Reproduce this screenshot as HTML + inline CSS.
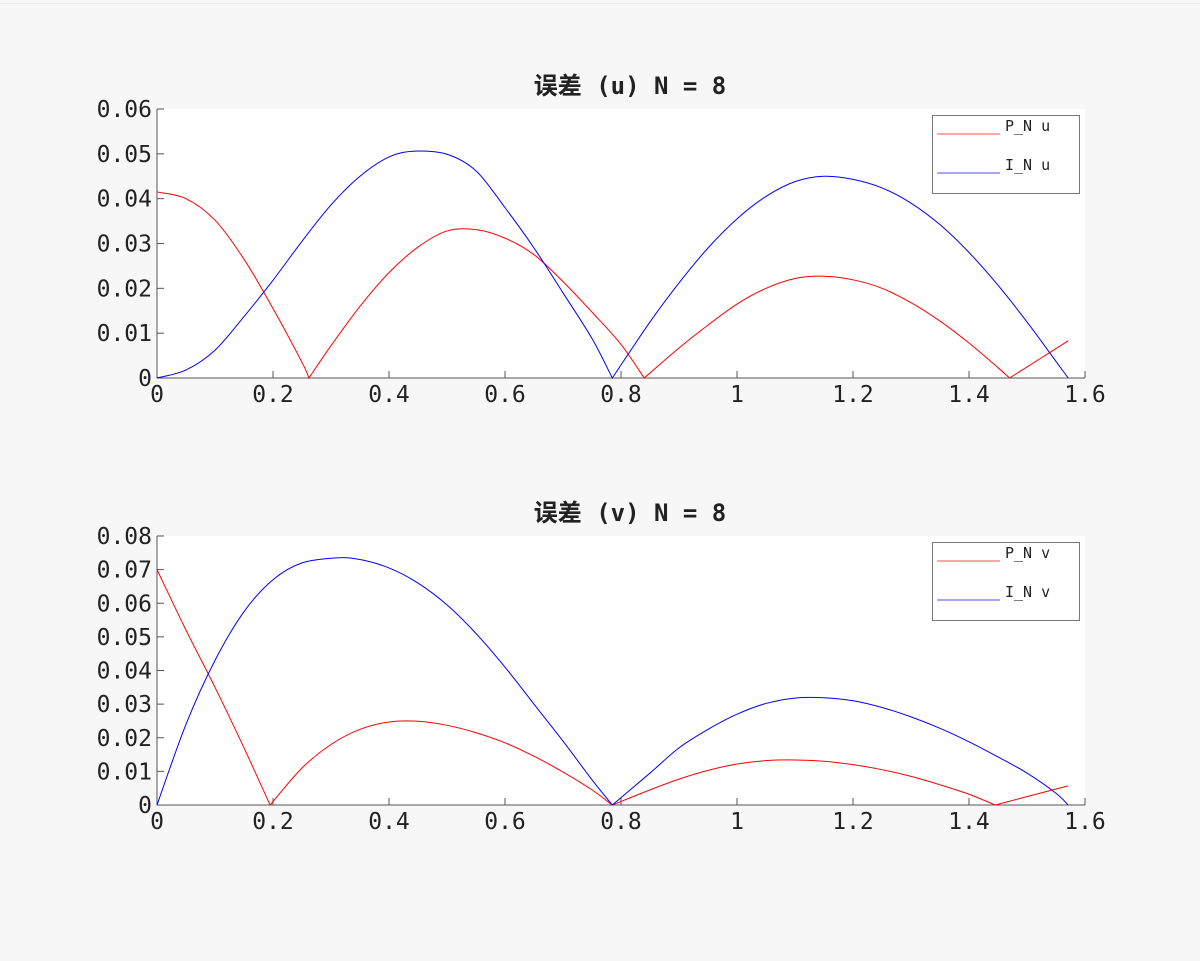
<!DOCTYPE html>
<html><head><meta charset="utf-8">
<style>
html,body{margin:0;padding:0;background:#f7f7f7;}
svg{display:block;}
text{font-family:"DejaVu Sans Mono","Liberation Mono","Noto Sans CJK SC",monospace;fill:#222;}
</style></head>
<body>
<svg id="chart" width="1200" height="961" viewBox="0 0 1200 961">
<rect x="0" y="0" width="1200" height="961" fill="#f7f7f7"/>
<line x1="0" y1="3.5" x2="1200" y2="3.5" stroke="#ececec" stroke-width="1"/>
</svg>
<script>
// ---- data (top: u) ----
const uRedX = [0,0.05,0.1,0.15,0.2,0.25,0.262,0.3,0.35,0.4,0.45,0.5,0.55,0.6,0.65,0.7,0.75,0.8,0.84,0.9,0.95,1.0,1.05,1.1,1.15,1.2,1.25,1.3,1.35,1.4,1.45,1.47,1.52,1.571];
const uRedY = [0.0415,0.0400,0.0352,0.0265,0.0155,0.0035,0,0.0072,0.0160,0.0235,0.0292,0.0328,0.0331,0.0312,0.0275,0.0215,0.0147,0.0075,0,0.0067,0.0118,0.0165,0.0200,0.0222,0.0227,0.0219,0.0200,0.0168,0.0127,0.0078,0.0023,0,0.0041,0.0083];
const uBlueX = [0,0.05,0.1,0.15,0.2,0.25,0.3,0.35,0.4,0.445,0.5,0.55,0.6,0.65,0.7,0.75,0.785,0.85,0.9,0.95,1.0,1.05,1.1,1.15,1.2,1.25,1.3,1.35,1.4,1.45,1.5,1.55,1.571];
const uBlueY = [0,0.0018,0.0062,0.0137,0.0218,0.0305,0.0386,0.0450,0.0493,0.0506,0.0499,0.0462,0.0380,0.0290,0.0190,0.0088,0,0.0125,0.0212,0.0290,0.0355,0.0405,0.0438,0.0450,0.0443,0.0424,0.0390,0.0342,0.0280,0.0207,0.0125,0.0037,0];
// ---- data (bottom: v) ----
const vRedX = [0,0.05,0.1,0.15,0.195,0.25,0.3,0.35,0.4,0.45,0.5,0.55,0.6,0.65,0.7,0.75,0.785,0.85,0.9,0.95,1.0,1.05,1.1,1.15,1.2,1.25,1.3,1.35,1.4,1.445,1.5,1.571];
const vRedY = [0.070,0.052,0.035,0.017,0,0.011,0.018,0.0225,0.0247,0.0249,0.0237,0.0215,0.0185,0.0145,0.0098,0.0045,0,0.0045,0.0077,0.0103,0.0122,0.0132,0.0134,0.0130,0.0120,0.0105,0.0085,0.0060,0.0032,0,0.0025,0.0057];
const vBlueX = [0,0.05,0.1,0.15,0.2,0.25,0.31,0.35,0.4,0.45,0.5,0.55,0.6,0.65,0.7,0.75,0.785,0.85,0.9,0.95,1.0,1.05,1.1,1.15,1.2,1.25,1.3,1.35,1.4,1.45,1.5,1.55,1.571];
const vBlueY = [0,0.024,0.043,0.0575,0.067,0.072,0.0735,0.073,0.0705,0.066,0.0595,0.051,0.041,0.030,0.019,0.0075,0,0.0095,0.017,0.0225,0.027,0.0302,0.0318,0.0319,0.031,0.029,0.0262,0.0228,0.0188,0.0143,0.0095,0.0035,0];
const xTicks = [0,0.2,0.4,0.6,0.8,1,1.2,1.4,1.6];
const xTickLabels = ["0","0.2","0.4","0.6","0.8","1","1.2","1.4","1.6"];
const uYTicks = [0,0.01,0.02,0.03,0.04,0.05,0.06];
const uYTickLabels = ["0","0.01","0.02","0.03","0.04","0.05","0.06"];
const vYTicks = [0,0.01,0.02,0.03,0.04,0.05,0.06,0.07,0.08];
const vYTickLabels = ["0","0.01","0.02","0.03","0.04","0.05","0.06","0.07","0.08"];

const NS = "http://www.w3.org/2000/svg";
const svg = document.getElementById('chart');
function mk(tag, attrs, parent){
  const e = document.createElementNS(NS, tag);
  for (const k in attrs) e.setAttribute(k, attrs[k]);
  (parent||svg).appendChild(e);
  return e;
}
// smooth path: split at zero-value cusps, Catmull-Rom within each segment
function smoothPath(pts, zeroIdx){
  let d = 'M'+pts[0][0].toFixed(2)+','+pts[0][1].toFixed(2);
  let segs = [], cur=[0];
  for (let i=1;i<pts.length;i++){ cur.push(i); if (zeroIdx.includes(i) && i<pts.length-1){ segs.push(cur); cur=[i]; } }
  segs.push(cur);
  segs.forEach(seg=>{
    for (let k=0;k<seg.length-1;k++){
      const p1=pts[seg[k]], p2=pts[seg[k+1]];
      const p0=pts[seg[Math.max(k-1,0)]], p3=pts[seg[Math.min(k+2,seg.length-1)]];
      const c1=[p1[0]+(p2[0]-p0[0])/6, p1[1]+(p2[1]-p0[1])/6];
      const c2=[p2[0]-(p3[0]-p1[0])/6, p2[1]-(p3[1]-p1[1])/6];
      d+='C'+c1.map(v=>v.toFixed(2)).join(',')+' '+c2.map(v=>v.toFixed(2)).join(',')+' '+p2.map(v=>v.toFixed(2)).join(',');
    }
  });
  return d;
}
function panel(opt){
  const g = mk('g', {});
  
  
  const L=157, R=1085, T=opt.top, B=opt.bottom;
  const xs = v => L + v/1.6*(R-L);
  const ys = v => B - v/opt.ymax*(B-T);
  const bg = mk('rect', {x:L, y:T, width:R-L, height:B-T, fill:'#fff'}, g);
  
  
  const ax = mk('path', {d:`M${L},${T}V${B}H${R}`, stroke:'#555', fill:'none','stroke-width':1}, g);
  
  
  xTicks.forEach((t,i)=>{
    const x = xs(t);
    mk('line',{x1:x,y1:B,x2:x,y2:B-7,stroke:'#555'},g);
    const tx = mk('text',{x:x,y:B+24,'text-anchor':'middle','font-size':23},g);
    tx.textContent = xTickLabels[i];
    
    
  });
  opt.yTicks.forEach((t,i)=>{
    const y = ys(t);
    mk('line',{x1:L,y1:y,x2:L+7,y2:y,stroke:'#555'},g);
    const tx = mk('text',{x:152,y:y+8,'text-anchor':'end','font-size':23},g);
    tx.textContent = opt.yLabels[i];
    
    
  });
  const title = mk('text',{x:630,y:T-15,'text-anchor':'middle','font-size':24,'font-weight':'bold'},g);
  title.textContent = opt.title;
  
  
  opt.series.forEach(s=>{
    const pts = s.x.map((v,i)=>[xs(v), ys(s.y[i])]);
    const zeros = s.y.map((v,i)=>v===0?i:-1).filter(i=>i>0);
    const p = mk('path',{d:smoothPath(pts,zeros),stroke:s.color,fill:'none','stroke-width':1},g);
    
    
  });
  const lg = mk('g',{},g);
  
  
  mk('rect',{x:932.5,y:opt.legTop+0.5,width:147,height:78,fill:'#fff',stroke:'#777'},lg);
  opt.series.forEach((s,i)=>{
    const y = opt.legTop + 19 + i*39;
    const ent = mk('g',{},lg);
    
    
    mk('line',{x1:937,y1:y,x2:1000,y2:y,stroke:s.color,'stroke-opacity':0.7},ent);
    const t = mk('text',{x:1005,y:y-3,'font-size':15},ent);
    t.textContent = s.label;
  });
}
panel({name:'u-error-panel', top:109, bottom:378, ymax:0.06, yTicks:uYTicks, yLabels:uYTickLabels,
  title:'误差 (u) N = 8', legTop:115,
  series:[{x:uRedX,y:uRedY,color:'#ff0000',label:'P_N u',dn:'p-n-u-line'},
          {x:uBlueX,y:uBlueY,color:'#0000ff',label:'I_N u',dn:'i-n-u-line'}]});
panel({name:'v-error-panel', top:536, bottom:805, ymax:0.08, yTicks:vYTicks, yLabels:vYTickLabels,
  title:'误差 (v) N = 8', legTop:542,
  series:[{x:vRedX,y:vRedY,color:'#ff0000',label:'P_N v',dn:'p-n-v-line'},
          {x:vBlueX,y:vBlueY,color:'#0000ff',label:'I_N v',dn:'i-n-v-line'}]});
</script>
</body></html>
